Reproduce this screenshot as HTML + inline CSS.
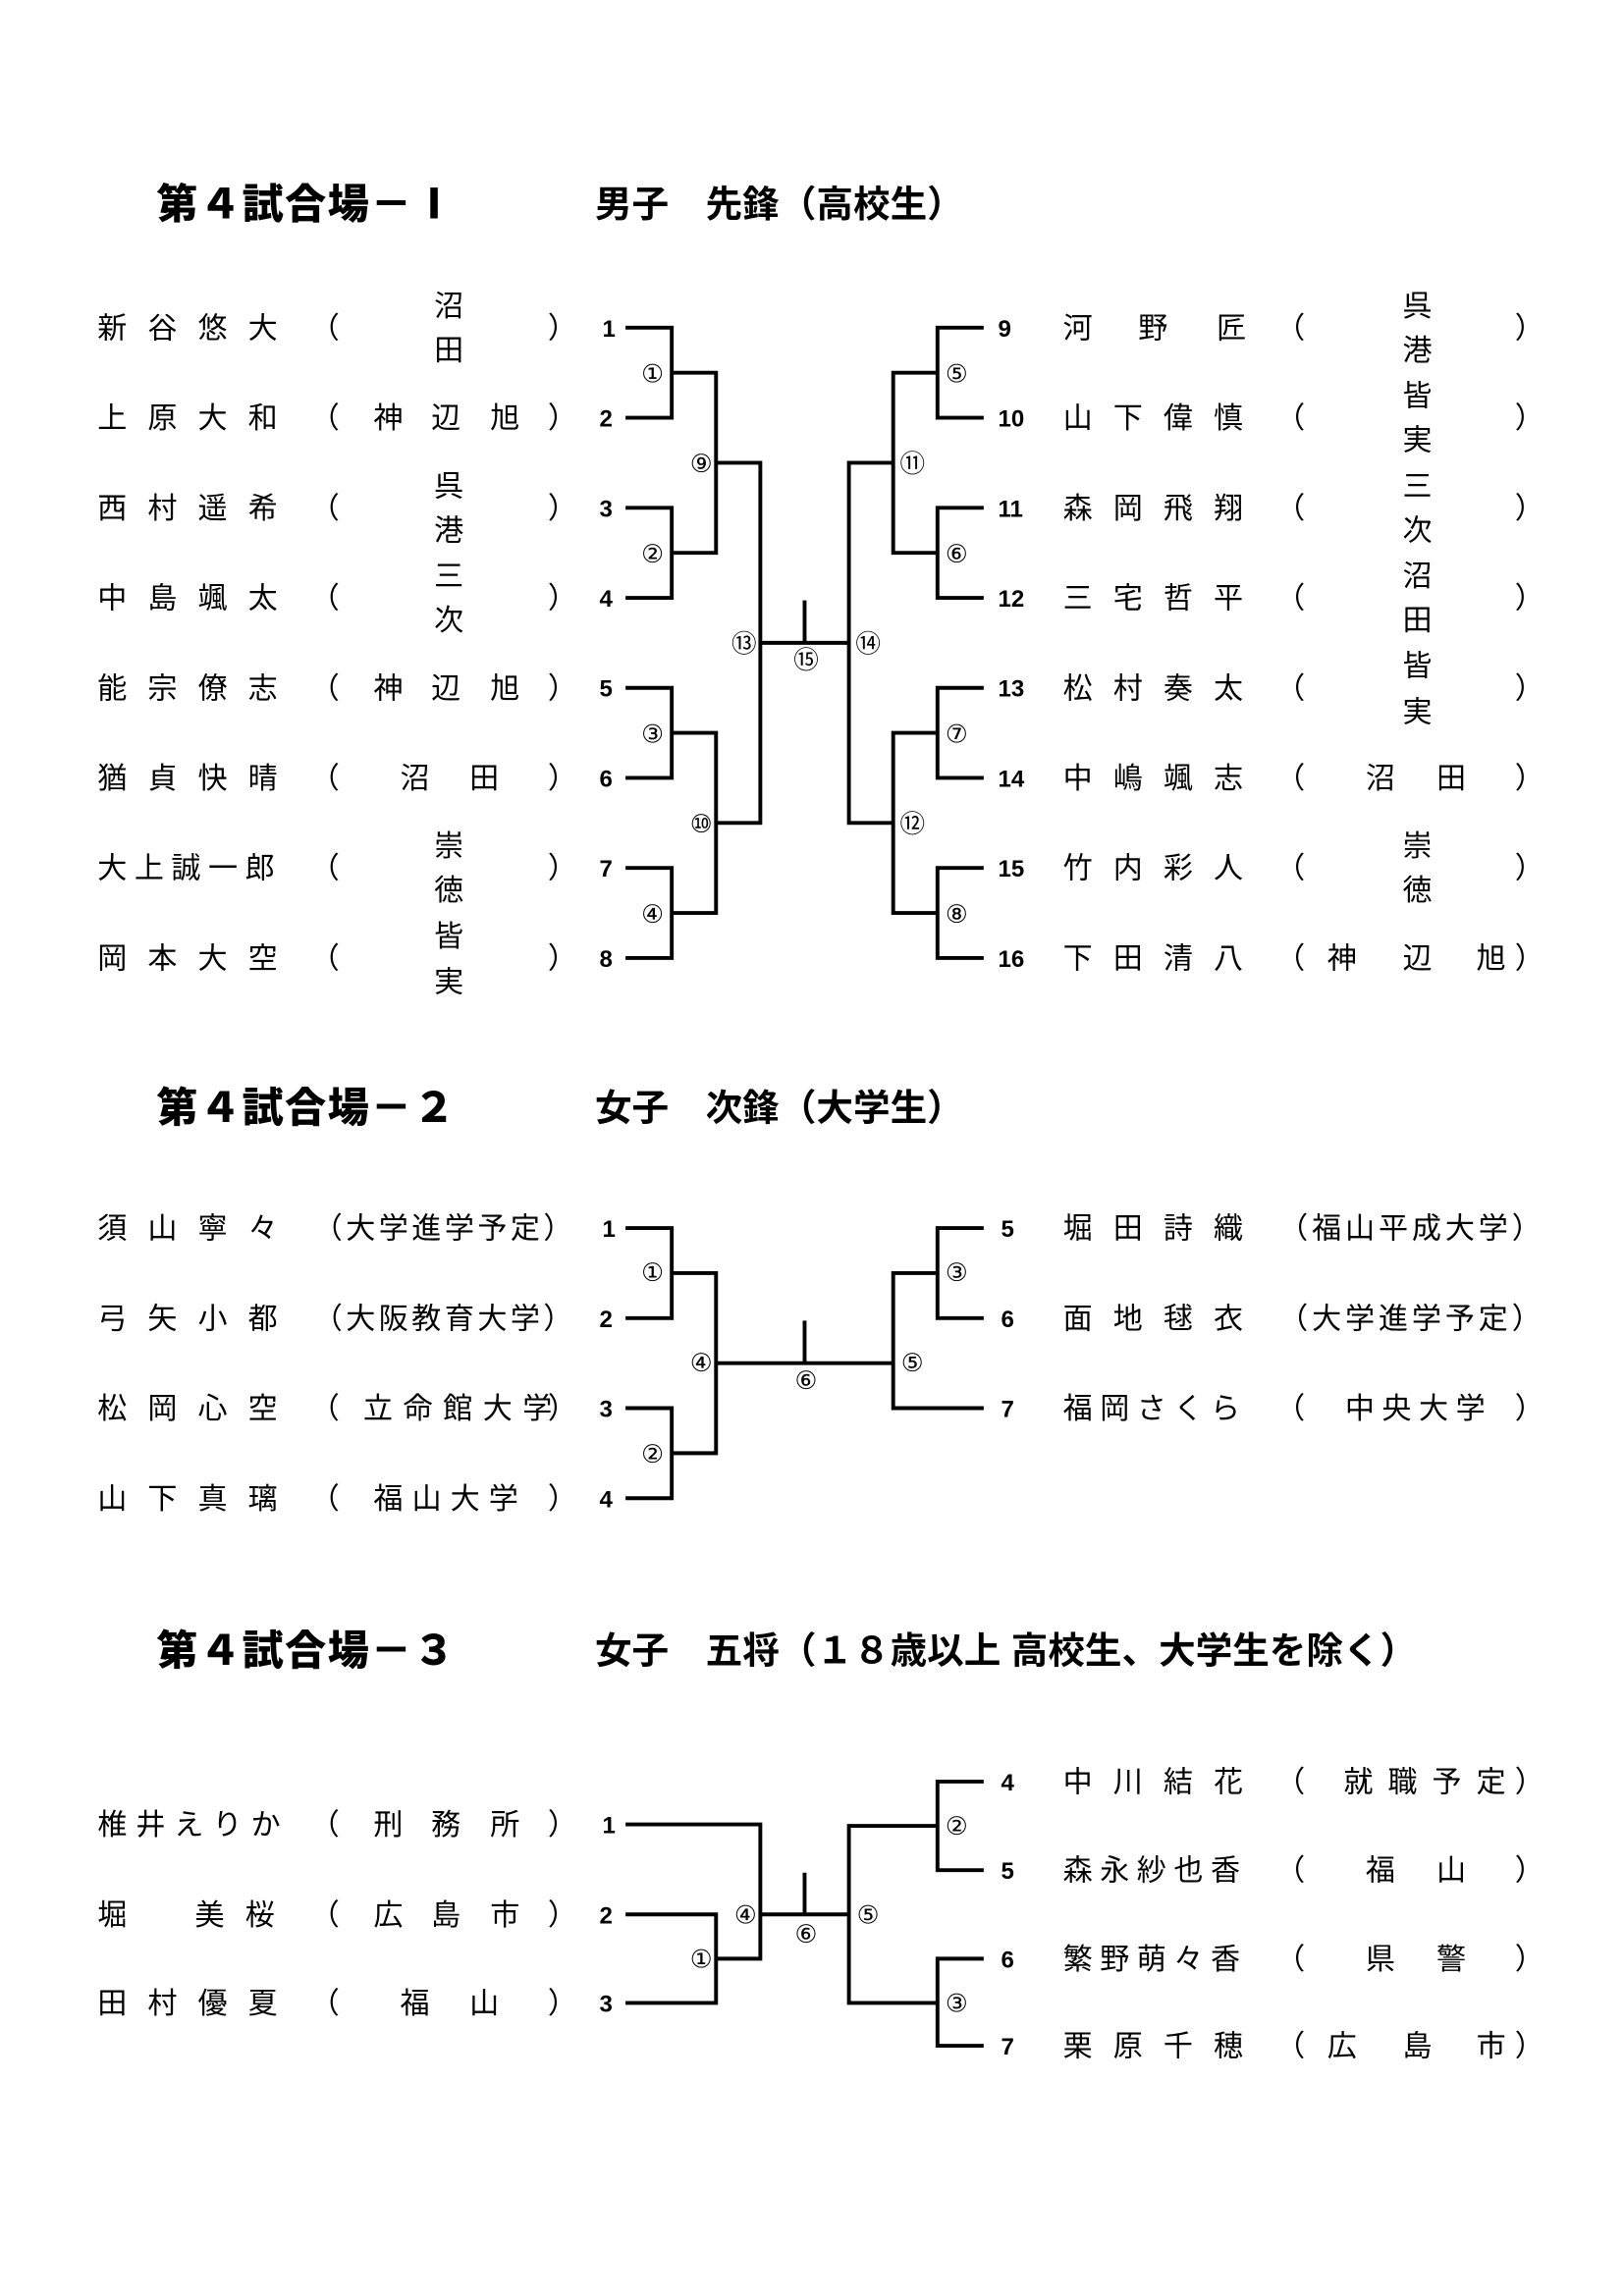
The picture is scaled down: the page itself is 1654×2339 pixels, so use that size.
<!DOCTYPE html>
<html><head><meta charset="utf-8"><style>
html,body{margin:0;padding:0;background:#fff;}
svg{display:block;}
.n{font-family:"Liberation Sans","Noto Sans CJK JP",sans-serif;font-size:20px;fill:#000;}
.t{font-family:"Liberation Sans","Noto Sans CJK JP",sans-serif;font-size:28px;font-weight:900;fill:#000;letter-spacing:1px;}
.s{font-family:"Liberation Sans","Noto Sans CJK JP",sans-serif;font-size:25px;font-weight:700;fill:#000;}
.num{font-family:"Liberation Sans",sans-serif;font-size:16px;font-weight:700;fill:#000;}
.c{font-family:"DejaVu Sans","Noto Sans CJK JP",sans-serif;font-size:17px;fill:#000;text-anchor:middle;}
.m{text-anchor:middle;}
path{fill:none;stroke:#000;stroke-width:2.6;stroke-linecap:square;}
</style></head><body>
<svg width="1654" height="2339" viewBox="0 0 1100 1555.5" xmlns="http://www.w3.org/2000/svg">
<text class="t" x="106" y="148">第４試合場－Ⅰ</text>
<text class="s" x="403" y="147">男子　先鋒（高校生）</text>
<text class="t" x="106" y="760">第４試合場－２</text>
<text class="s" x="403" y="759">女子　次鋒（大学生）</text>
<text class="t" x="106" y="1128">第４試合場－３</text>
<text class="s" x="403" y="1127">女子　五将（１８歳以上 高校生、大学生を除く）</text>

<g class="n">
<text x="66 100 134 168" y="229">新谷悠大</text>
<text x="66 100 134 168" y="290">上原大和</text>
<text x="66 100 134 168" y="351">西村遥希</text>
<text x="66 100 134 168" y="412">中島颯太</text>
<text x="66 100 134 168" y="473">能宗僚志</text>
<text x="66 100 134 168" y="534">猶貞快晴</text>
<text x="66 91 116 141 166" y="595">大上誠一郎</text>
<text x="66 100 134 168" y="656">岡本大空</text>
</g>
<g class="n">
<text x="210" y="229">（</text><text x="371" y="229">）</text>
<text x="210" y="290">（</text><text x="371" y="290">）</text>
<text x="210" y="351">（</text><text x="371" y="351">）</text>
<text x="210" y="412">（</text><text x="371" y="412">）</text>
<text x="210" y="473">（</text><text x="371" y="473">）</text>
<text x="210" y="534">（</text><text x="371" y="534">）</text>
<text x="210" y="595">（</text><text x="371" y="595">）</text>
<text x="210" y="656">（</text><text x="371" y="656">）</text>
</g>
<g class="n m">
<text x="304" y="214">沼</text><text x="304" y="244">田</text>
<text x="263" y="290">神</text><text x="302" y="290">辺</text><text x="342" y="290">旭</text>
<text x="304" y="336">呉</text><text x="304" y="366">港</text><text x="304" y="397">三</text><text x="304" y="427">次</text>
<text x="263" y="473">神</text><text x="302" y="473">辺</text><text x="342" y="473">旭</text>
<text x="281" y="534">沼</text><text x="328" y="534">田</text>
<text x="304" y="580">崇</text><text x="304" y="610">徳</text><text x="304" y="641">皆</text><text x="304" y="672">実</text>
</g>
<g class="n">
<text x="720 771 824" y="229">河野匠</text>
<text x="720 754 788 822" y="290">山下偉慎</text>
<text x="720 754 788 822" y="351">森岡飛翔</text>
<text x="720 754 788 822" y="412">三宅哲平</text>
<text x="720 754 788 822" y="473">松村奏太</text>
<text x="720 754 788 822" y="534">中嶋颯志</text>
<text x="720 754 788 822" y="595">竹内彩人</text>
<text x="720 754 788 822" y="656">下田清八</text>
</g>
<g class="n">
<text x="864" y="229">（</text><text x="1026" y="229">）</text>
<text x="864" y="290">（</text><text x="1026" y="290">）</text>
<text x="864" y="351">（</text><text x="1026" y="351">）</text>
<text x="864" y="412">（</text><text x="1026" y="412">）</text>
<text x="864" y="473">（</text><text x="1026" y="473">）</text>
<text x="864" y="534">（</text><text x="1026" y="534">）</text>
<text x="864" y="595">（</text><text x="1026" y="595">）</text>
<text x="864" y="656">（</text><text x="1026" y="656">）</text>
</g>
<g class="n m">
<text x="960" y="214">呉</text><text x="960" y="244">港</text><text x="960" y="275">皆</text><text x="960" y="305">実</text>
<text x="960" y="336">三</text><text x="960" y="366">次</text><text x="960" y="397">沼</text><text x="960" y="427">田</text>
<text x="960" y="458">皆</text><text x="960" y="489">実</text>
<text x="935" y="534">沼</text><text x="983" y="534">田</text>
<text x="960" y="580">崇</text><text x="960" y="610">徳</text>
<text x="909" y="656">神</text><text x="960" y="656">辺</text><text x="1010" y="656">旭</text>
</g>
<g class="num">
<text x="408" y="228">1</text><text x="406" y="289">2</text><text x="406" y="350">3</text><text x="406" y="411">4</text>
<text x="406" y="472">5</text><text x="406" y="533">6</text><text x="406" y="594">7</text><text x="406" y="655">8</text>
<text x="676" y="228">9</text><text x="676" y="289">10</text><text x="676" y="350">11</text><text x="676" y="411">12</text>
<text x="676" y="472">13</text><text x="676" y="533">14</text><text x="676" y="594">15</text><text x="676" y="655">16</text>
</g>
<path d="M425 222H455V283H425M455 252.5H485M425 344H455V405H425M455 374.5H485M485 252.5V374.5M485 313.5H515
M425 466H455V527H425M455 496.5H485M425 588H455V649H425M455 618.5H485M485 496.5V618.5M485 557.5H515
M515 313.5V557.5M515 435.5H575M545 408V435.5
M665 222H635V283H665M635 252.5H605M665 344H635V405H665M635 374.5H605M605 252.5V374.5M605 313.5H575
M665 466H635V527H665M635 496.5H605M665 588H635V649H665M635 618.5H605M605 496.5V618.5M605 557.5H575M575 313.5V557.5"/>
<g class="c">
<text x="442" y="259">①</text><text x="442" y="381">②</text><text x="442" y="503">③</text><text x="442" y="625">④</text>
<text x="475" y="320">⑨</text><text x="475" y="564">⑩</text><text x="504" y="442">⑬</text><text x="546" y="453">⑮</text>
<text x="588" y="442">⑭</text><text x="618" y="320">⑪</text><text x="618" y="564">⑫</text>
<text x="648" y="259">⑤</text><text x="648" y="381">⑥</text><text x="648" y="503">⑦</text><text x="648" y="625">⑧</text>
</g>

<g class="n">
<text x="66 100 134 168" y="839">須山寧々</text>
<text x="66 100 134 168" y="900">弓矢小都</text>
<text x="66 100 134 168" y="961">松岡心空</text>
<text x="66 100 134 168" y="1022">山下真璃</text>
<text x="212" y="839" textLength="176" lengthAdjust="spacing">（大学進学予定）</text>
<text x="212" y="900" textLength="176" lengthAdjust="spacing">（大阪教育大学）</text>
<text x="210" y="961">（</text><text x="246 273 300 327 354" y="961">立命館大学</text><text x="371" y="961">）</text>
<text x="210" y="1022">（</text><text x="253 279 305 331" y="1022">福山大学</text><text x="371" y="1022">）</text>
<text x="720 754 788 822" y="839">堀田詩織</text>
<text x="720 754 788 822" y="900">面地毬衣</text>
<text x="720 745 770 795 820" y="961">福岡さくら</text>
<text x="866" y="839" textLength="178" lengthAdjust="spacing">（福山平成大学）</text>
<text x="866" y="900" textLength="178" lengthAdjust="spacing">（大学進学予定）</text>
<text x="864" y="961">（</text><text x="911 936 961 986" y="961">中央大学</text><text x="1026" y="961">）</text>
</g>
<g class="num">
<text x="408" y="838">1</text><text x="406" y="899">2</text><text x="406" y="960">3</text><text x="406" y="1021">4</text>
<text x="678" y="838">5</text><text x="678" y="899">6</text><text x="678" y="960">7</text>
</g>
<path d="M425 832H455V893H425M455 862.5H485M425 954H455V1015H425M455 984.5H485M485 862.5V984.5M485 923.5H605M545 896V923.5
M665 832H635V893H665M635 862.5H605M605 862.5V954H665"/>
<g class="c">
<text x="442" y="868">①</text><text x="442" y="991">②</text><text x="475" y="929">④</text><text x="546" y="941">⑥</text>
<text x="618" y="929">⑤</text><text x="648" y="868">③</text>
</g>

<g class="n">
<text x="66 92 118 144 170" y="1243">椎井えりか</text>
<text x="66 132 166" y="1304">堀美桜</text>
<text x="66 100 134 168" y="1364">田村優夏</text>
<text x="210" y="1243">（</text><text x="371" y="1243">）</text>
<text x="210" y="1304">（</text><text x="371" y="1304">）</text>
<text x="210" y="1364">（</text><text x="371" y="1364">）</text>
<text x="720 754 788 822" y="1214">中川結花</text>
<text x="720 745 770 795 820" y="1274">森永紗也香</text>
<text x="720 745 770 795 820" y="1334">繁野萌々香</text>
<text x="720 754 788 822" y="1393">栗原千穂</text>
<text x="864" y="1214">（</text><text x="1026" y="1214">）</text>
<text x="864" y="1274">（</text><text x="1026" y="1274">）</text>
<text x="864" y="1334">（</text><text x="1026" y="1334">）</text>
<text x="864" y="1393">（</text><text x="1026" y="1393">）</text>
</g>
<g class="n m">
<text x="263" y="1243">刑</text><text x="302" y="1243">務</text><text x="342" y="1243">所</text>
<text x="263" y="1304">広</text><text x="302" y="1304">島</text><text x="342" y="1304">市</text>
<text x="281" y="1364">福</text><text x="328" y="1364">山</text>
<text x="920" y="1214">就</text><text x="950" y="1214">職</text><text x="980" y="1214">予</text><text x="1010" y="1214">定</text>
<text x="935" y="1274">福</text><text x="983" y="1274">山</text>
<text x="935" y="1334">県</text><text x="983" y="1334">警</text>
<text x="909" y="1393">広</text><text x="960" y="1393">島</text><text x="1010" y="1393">市</text>
</g>
<g class="num">
<text x="408" y="1242">1</text><text x="406" y="1303">2</text><text x="406" y="1363">3</text>
<text x="678" y="1213">4</text><text x="678" y="1273">5</text><text x="678" y="1333">6</text><text x="678" y="1392">7</text>
</g>
<path d="M425 1236H515V1327H485M425 1297H485V1357H425M515 1297H575M545 1270V1297
M575 1237V1357M575 1237H635M665 1207H635V1267H665M575 1357H635M665 1327H635V1386H665"/>
<g class="c">
<text x="475" y="1333">①</text><text x="505" y="1303">④</text><text x="546" y="1316">⑥</text>
<text x="588" y="1303">⑤</text><text x="648" y="1243">②</text><text x="648" y="1363">③</text>
</g>
</svg>
</body></html>
